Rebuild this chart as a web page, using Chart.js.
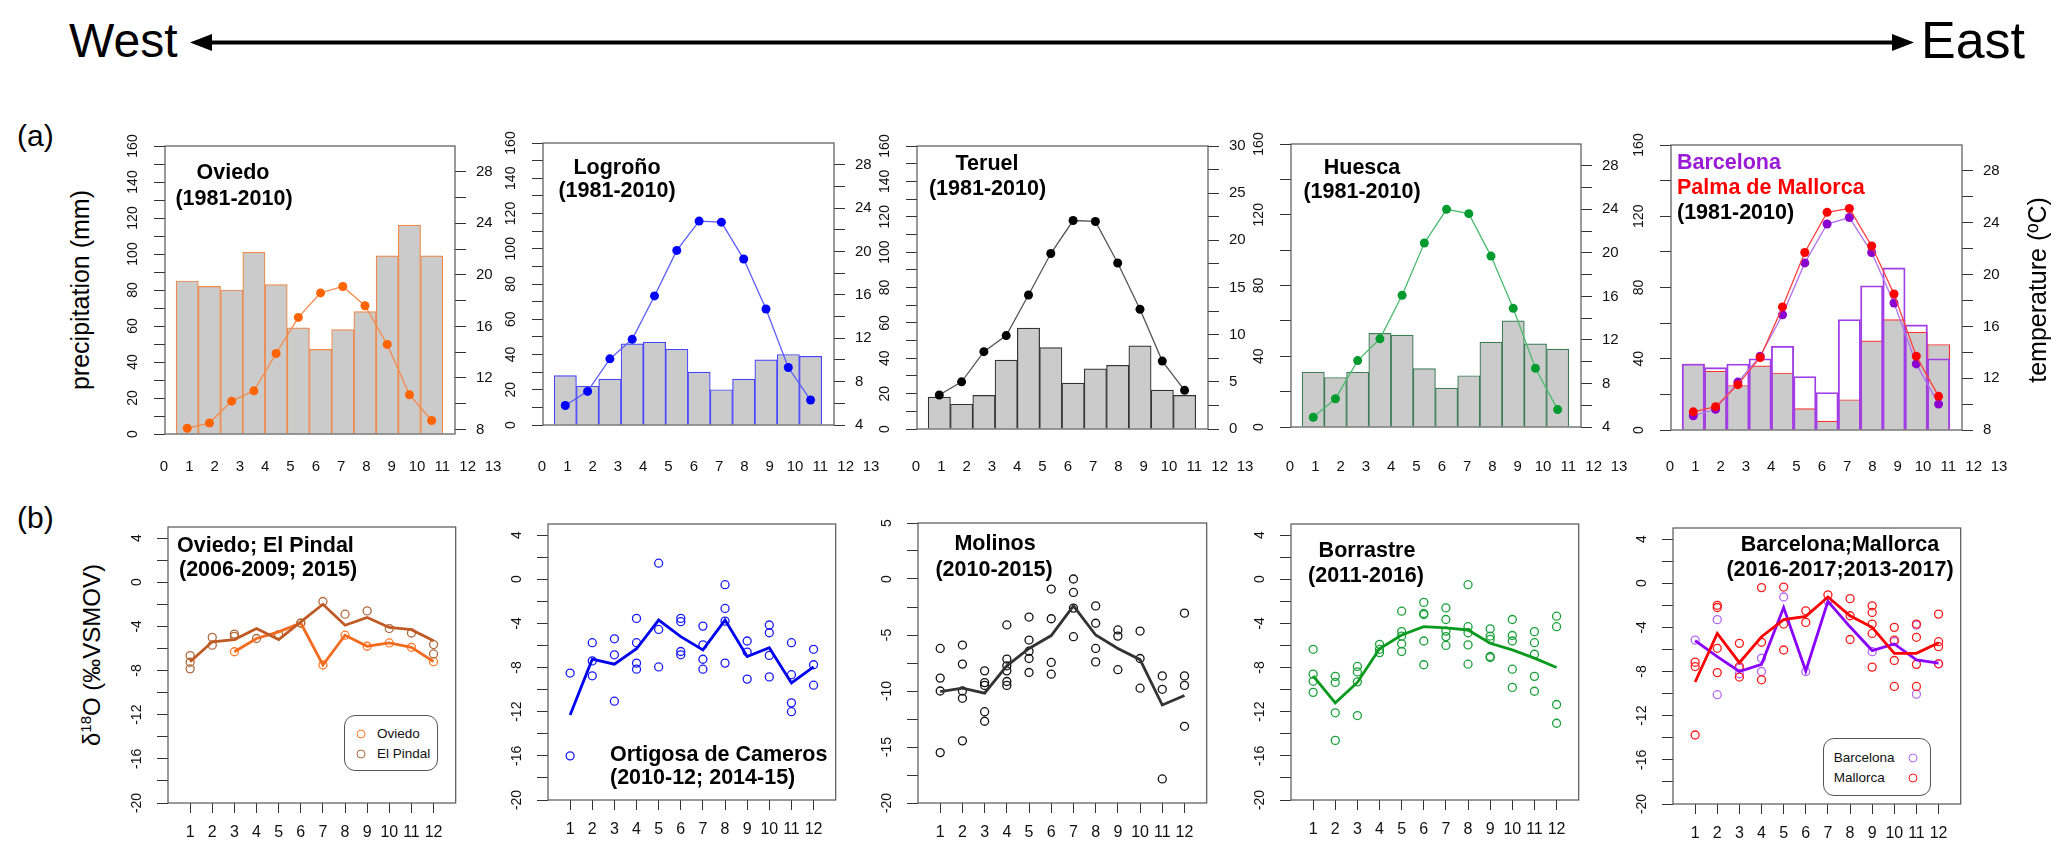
<!DOCTYPE html>
<html>
<head>
<meta charset="utf-8">
<title>Precipitation, temperature and d18O, west to east</title>
<script src="https://cdn.jsdelivr.net/npm/chart.js@4.4.1/dist/chart.umd.min.js"></script>
<style>
  html, body { margin: 0; padding: 0; background: #fff; }
  body { position: relative; width: 2067px; height: 858px; overflow: hidden; font-family: "Liberation Sans", Arial, sans-serif; }
  canvas { position: absolute; }
  .lbl { position: absolute; white-space: nowrap; line-height: 1; }
  .legend { position: absolute; border: 1px solid #555; border-radius: 11px; background: #fff; }
  .legend div { position: absolute; font-size: 13.5px; white-space: nowrap; line-height: 1; transform: translateY(-50%); color: #111; }
  .legend span { position: absolute; width: 7px; height: 7px; border-radius: 50%; border: 1.3px solid; transform: translate(-50%, -50%); }
</style>
</head>
<body>
<svg style="position:absolute;left:0;top:0" width="2067" height="80">
  <line x1="205" y1="42.5" x2="1899" y2="42.5" stroke="#000" stroke-width="4"/>
  <polygon points="190,42.5 212,34 212,51" fill="#000"/>
  <polygon points="1914,42.5 1892,34 1892,51" fill="#000"/>
</svg>
<script>
// months
const months = [1, 2, 3, 4, 5, 6, 7, 8, 9, 10, 11, 12];
const barAxisLabels = [0, 1, 2, 3, 4, 5, 6, 7, 8, 9, 10, 11, 12, 13];

// (a) monthly precipitation (mm) and temperature (ºC), 1981-2010
const oviedoPrecip = [85, 82, 80, 101, 83, 59, 47, 58, 68, 99, 116, 99];
const oviedoTemp = [8.1, 8.5, 10.2, 11.0, 13.9, 16.7, 18.6, 19.1, 17.6, 14.6, 10.7, 8.7];
const logronoPrecip = [28, 22, 26, 46, 47, 43, 30, 20, 26, 37, 40, 39];
const logronoTemp = [5.8, 7.1, 10.1, 11.9, 15.9, 20.1, 22.8, 22.7, 19.3, 14.7, 9.3, 6.3];
const teruelPrecip = [18, 14, 19, 39, 57, 46, 26, 34, 36, 47, 22, 19];
const teruelTemp = [3.6, 5.0, 8.2, 9.9, 14.2, 18.6, 22.1, 22.0, 17.6, 12.7, 7.2, 4.1];
const huescaPrecip = [31, 28, 31, 53, 52, 33, 22, 29, 48, 60, 47, 44];
const huescaTemp = [4.9, 6.6, 10.1, 12.1, 16.1, 20.9, 24.0, 23.6, 19.7, 14.9, 9.4, 5.6];
const barcelonaPrecip = [37, 35, 37, 40, 47, 30, 21, 62, 81, 91, 59, 40];
const palmaPrecip = [37, 33, 25, 36, 32, 12, 5, 17, 50, 62, 55, 48];
const barcelonaTemp = [9.1, 9.6, 11.7, 13.7, 16.9, 20.9, 23.9, 24.4, 21.7, 17.8, 13.1, 10.0];
const palmaTemp = [9.4, 9.8, 11.5, 13.6, 17.5, 21.7, 24.8, 25.1, 22.2, 18.5, 13.7, 10.6];

// (b) d18O of precipitation (‰ VSMOW): monthly means and single samples
const oviedoMean = [null, null, -6.3, -5.1, -4.5, -3.7, -7.5, -4.8, -5.8, -5.5, -5.9, -7.2];
const oviedoD18O = [[], [], [-6.3], [], [], [-3.7], [-7.5], [-4.8], [-5.8], [-5.5], [-5.9], [-7.2]];
const pindalMean = [-7.2, -5.4, -5.2, -4.2, -5.2, -3.6, -2.0, -3.9, -3.2, -4.1, -4.3, -5.3];
const pindalD18O = [[-6.65, -7.25, -7.85], [-5.0, -5.7], [-4.7, -4.9], [-5.1], [-4.75], [-3.7], [-1.75], [-2.9], [-2.6], [-4.2], [-4.6], [-5.65, -6.5]];

const ortigosaMean = [-12.3, -7.25, -7.7, -6.3, -3.7, -5.2, -6.4, -3.7, -7.0, -6.2, -9.4, -7.95];
const ortigosaD18O = [[-8.5, -16.0], [-5.75, -7.4, -8.75], [-5.4, -6.85, -11.05], [-3.55, -5.75, -7.6, -8.15], [1.45, -4.55, -7.95], [-3.55, -3.85, -6.55, -6.85], [-4.25, -5.95, -7.25, -8.15], [-0.5, -2.65, -3.8, -7.6], [-5.6, -6.6, -9.05], [-4.15, -4.85, -6.9, -8.85], [-5.75, -8.65, -11.2, -12.0], [-6.35, -7.75, -9.6]];

const molinosMean = [-10.05, -9.75, -10.2, -7.75, -6.2, -5.05, -2.4, -5.0, -6.2, -7.2, -11.25, -10.4];
const molinosD18O = [[-6.2, -8.85, -10.0, -15.5], [-5.9, -7.6, -10.0, -10.65, -14.45], [-8.2, -9.25, -9.5, -11.85, -12.7], [-4.1, -7.15, -7.75, -8.2, -9.15, -9.5], [-3.4, -5.45, -6.45, -7.1, -8.35], [-0.9, -3.55, -7.45, -8.5], [0.0, -1.2, -2.6, -5.15], [-2.4, -3.95, -6.2, -7.4], [-4.55, -5.1, -8.1], [-4.65, -7.1, -9.75], [-8.65, -9.85, -17.85], [-3.05, -8.65, -9.5, -13.15]];

const borrastreMean = [-8.75, -11.2, -9.35, -6.3, -5.05, -4.3, -4.4, -4.6, -5.8, -6.4, -7.15, -8.0];
const borrastreD18O = [[-6.35, -8.6, -9.25, -10.25], [-8.8, -9.35, -12.1, -14.6], [-7.9, -8.4, -9.3, -12.35], [-5.9, -6.35, -6.65], [-2.9, -4.75, -5.15, -5.85, -6.55], [-2.1, -3.1, -3.2, -5.6, -7.75], [-2.6, -3.65, -4.7, -5.2, -6.0], [-0.5, -4.3, -4.85, -5.95, -7.7], [-4.5, -5.15, -5.45, -7.0, -7.1], [-3.65, -5.1, -5.6, -8.15, -9.8], [-4.75, -5.75, -6.8, -8.8, -10.15], [-3.35, -4.3, -11.35, -13.05]];

const barcelonaMean = [-5.2, -6.65, -8.0, -7.35, -2.2, -7.95, -1.65, -3.95, -6.1, -5.5, -6.95, -7.25];
const barcelonaD18O = [[-5.15], [-3.3, -10.1], [-7.7, -8.2], [-6.8, -8.0], [-1.25], [-8.0], [-1.6], [], [-6.2], [-5.3], [-3.8, -10.05], [-7.3]];
const mallorcaMean = [-8.95, -4.55, -7.2, -4.85, -3.3, -3.0, -1.25, -2.95, -4.0, -6.35, -6.35, -5.4];
const mallorcaD18O = [[-7.15, -7.55, -13.75], [-2.0, -2.2, -5.9, -8.1], [-5.45, -7.55, -8.5], [-0.4, -5.35, -8.75], [-0.35, -3.7, -6.05], [-2.5, -3.55], [-1.05], [-1.4, -2.95, -5.1], [-2.05, -2.65, -3.7, -4.55, -7.6], [-4.0, -5.15, -7.0, -9.35], [-3.7, -4.9, -7.35, -9.35], [-2.8, -5.3, -5.75, -7.3]];

Chart.defaults.font.family = '"Liberation Sans", Arial, sans-serif';
Chart.defaults.color = '#111';

// box round the plotting area, like R's box()
const frame = {
  id: 'frame',
  afterDraw(chart) {
    const { ctx, chartArea: a } = chart;
    ctx.save();
    ctx.strokeStyle = '#555';
    ctx.lineWidth = 1.2;
    ctx.strokeRect(a.left, a.top, a.right - a.left, a.bottom - a.top);
    ctx.restore();
  }
};

function makeCanvas(x, y, w, h) {
  const c = document.createElement('canvas');
  c.width = Math.round(w);
  c.height = Math.round(h);
  c.style.cssText = `left:${x}px;top:${y}px;width:${Math.round(w)}px;height:${Math.round(h)}px`;
  document.body.appendChild(c);
  return c.getContext('2d');
}

function txt(html, x, y, o = {}) {
  const d = document.createElement('div');
  d.className = 'lbl';
  d.innerHTML = html;
  d.style.left = x + 'px';
  d.style.top = y + 'px';
  d.style.font = o.font || 'bold 21.5px "Liberation Sans", Arial, sans-serif';
  d.style.color = o.color || '#000';
  d.style.transform = `translate(${o.ax ?? -50}%, -50%)` + (o.rot ? ` rotate(${o.rot}deg)` : '');
  document.body.appendChild(d);
}

// tick list from..to by step, labels only on multiples of "every"
function tickAxis(pos, min, max, from, to, step, every, extra) {
  return Object.assign({
    type: 'linear', position: pos, min, max,
    afterBuildTicks: s => {
      const t = [];
      for (let v = from; v <= to + 1e-9; v += step) t.push({ value: +v.toFixed(3) });
      s.ticks = t;
    },
    grid: { drawOnChartArea: false, drawTicks: true, tickLength: 11, color: '#333', lineWidth: 1 },
    border: { display: false }
  }, extra, {
    ticks: Object.assign({
      autoSkip: false,
      color: '#111',
      callback: v => (Math.abs(v / every - Math.round(v / every)) < 1e-6 ? String(v) : '')
    }, extra.ticks)
  });
}

// (a) panel: bars of precipitation + line of temperature
function climate(p) {
  const AL = 48, AR = 52, PT = 22, PB = 14;
  const W = p.R - p.L, H = p.B - p.T;
  const ctx = makeCanvas(p.L - AL, p.T - PT, AL + W + AR, PT + H + PB);
  const datasets = [];
  p.lines.forEach(l => datasets.push({
    type: 'line', yAxisID: 'y2', order: 0,
    data: months.map((m, i) => ({ x: m, y: l.values[i] })),
    borderColor: l.line, borderWidth: 1.3,
    pointRadius: 4.5, pointBackgroundColor: l.dot, pointBorderColor: l.dot, pointBorderWidth: 0
  }));
  p.bars.forEach((b, k) => datasets.push({
    type: 'bar', yAxisID: 'y', order: 1 + k, grouped: false,
    data: months.map((m, i) => ({ x: m, y: b.values[i] })),
    backgroundColor: b.fill, borderColor: b.edge, borderWidth: 1.2,
    barPercentage: 1, categoryPercentage: 1
  }));
  new Chart(ctx, {
    type: 'bar',
    data: { datasets },
    plugins: [frame],
    options: {
      responsive: false, animation: false, events: [],
      layout: { padding: { top: PT, bottom: PB, left: 0, right: 0 } },
      plugins: { legend: { display: false }, tooltip: { enabled: false } },
      scales: {
        x: { type: 'linear', min: 0, max: 13.05, offset: false, display: false, ticks: { stepSize: 1 } },
        y: tickAxis('left', 0, 160, 0, 160, p.pStep, p.pEvery, {
          ticks: { minRotation: 90, maxRotation: 90, crossAlign: 'center', padding: 9, font: { size: 14 } },
          afterFit: s => { s.width = AL; }
        }),
        y2: tickAxis('right', p.tMin, p.tMax, p.tFrom, p.tTo, p.tStep, p.tEvery, {
          ticks: { crossAlign: 'near', padding: 10, font: { size: 15 } },
          afterFit: s => { s.width = AR; }
        })
      }
    }
  });
  // the 0..13 month axis printed under each panel
  const left = p.L - 1, step = 25.3, pad = 15;
  const ctx2 = makeCanvas(left - pad, 451.5, 13 * step + 2 * pad, 34);
  new Chart(ctx2, {
    type: 'scatter',
    data: { datasets: [] },
    options: {
      responsive: false, animation: false, events: [],
      layout: { padding: { left: pad, right: pad, top: 0, bottom: 0 } },
      plugins: { legend: { display: false }, tooltip: { enabled: false } },
      scales: {
        x: {
          type: 'linear', min: 0, max: 13,
          afterBuildTicks: s => { s.ticks = barAxisLabels.map(v => ({ value: v })); },
          ticks: { autoSkip: false, maxRotation: 0, padding: 2, font: { size: 15 }, color: '#111' },
          grid: { display: false, drawTicks: false },
          border: { display: false },
          afterFit: s => { s.height = 30; }
        },
        y: { display: false }
      }
    }
  });
}

// (b) panel: monthly means as lines, samples as open circles
function isotope(p) {
  const AL = 48, AR = 4, PT = 22, PB = 4, XH = 45;
  const W = p.R - p.L, H = p.B - p.T;
  const ctx = makeCanvas(p.L - AL, p.T - PT, AL + W + AR, PT + H + XH + PB);
  const datasets = [];
  p.series.forEach(s => {
    datasets.push({
      type: 'line', order: 0,
      data: months.map((m, i) => ({ x: m, y: s.mean[i] })).filter(d => d.y !== null),
      borderColor: s.line, borderWidth: 2.8, pointRadius: 0, tension: 0
    });
    datasets.push({
      type: 'scatter', order: 1,
      data: s.samples.flatMap((vals, i) => vals.map(v => ({ x: months[i], y: v }))),
      borderColor: s.dot, backgroundColor: 'rgba(0,0,0,0)', pointRadius: 4, borderWidth: 1.3
    });
  });
  new Chart(ctx, {
    type: 'scatter',
    data: { datasets },
    plugins: [frame],
    options: {
      responsive: false, animation: false, events: [],
      layout: { padding: { top: PT, bottom: PB, left: 0, right: AR } },
      plugins: { legend: { display: false }, tooltip: { enabled: false } },
      scales: {
        x: {
          type: 'linear', position: 'bottom', min: 0, max: 13,
          afterBuildTicks: s => { s.ticks = months.map(v => ({ value: v })); },
          ticks: { autoSkip: false, maxRotation: 0, padding: 10, font: { size: 16 }, color: '#111' },
          grid: { drawOnChartArea: false, drawTicks: true, tickLength: 10, color: '#333' },
          border: { display: false },
          afterFit: s => { s.height = XH; }
        },
        y: tickAxis('left', -20, 5, -20, p.yTo, p.yStep, p.yEvery, {
          ticks: { minRotation: 90, maxRotation: 90, crossAlign: 'center', padding: 10, font: { size: 14 } },
          afterFit: s => { s.width = AL; }
        })
      }
    }
  });
}

const gray = '#cbcbcb';

climate({ L: 164.5, R: 454.3, T: 145.5, B: 438, pStep: 10, pEvery: 20,
  tMin: 7.65, tMax: 30, tFrom: 8, tTo: 28, tStep: 2, tEvery: 4,
  bars: [{ values: oviedoPrecip, fill: gray, edge: '#f0894a' }],
  lines: [{ values: oviedoTemp, line: '#f48a4c', dot: '#ff6400' }] });

climate({ L: 543.3, R: 834.3, T: 143.3, B: 430, pStep: 10, pEvery: 20,
  tMin: 4, tMax: 30, tFrom: 4, tTo: 28, tStep: 2, tEvery: 4,
  bars: [{ values: logronoPrecip, fill: gray, edge: '#4646ff' }],
  lines: [{ values: logronoTemp, line: '#5b5bff', dot: '#0000ff' }] });

climate({ L: 917.3, R: 1208.3, T: 146, B: 434, pStep: 10, pEvery: 20,
  tMin: 0, tMax: 30, tFrom: 0, tTo: 30, tStep: 2.5, tEvery: 5,
  bars: [{ values: teruelPrecip, fill: gray, edge: '#333' }],
  lines: [{ values: teruelTemp, line: '#555', dot: '#000' }] });

climate({ L: 1291, R: 1581, T: 144, B: 432, pStep: 20, pEvery: 40,
  tMin: 4, tMax: 30, tFrom: 4, tTo: 28, tStep: 2, tEvery: 4,
  bars: [{ values: huescaPrecip, fill: gray, edge: '#3b7d57' }],
  lines: [{ values: huescaTemp, line: '#4cbb6e', dot: '#009a2e' }] });

climate({ L: 1670.7, R: 1961.7, T: 145, B: 434.5, pStep: 20, pEvery: 40,
  tMin: 8, tMax: 30, tFrom: 8, tTo: 28, tStep: 2, tEvery: 4,
  bars: [
    { values: barcelonaPrecip, fill: 'rgba(0,0,0,0)', edge: '#a23ee6' },
    { values: palmaPrecip, fill: gray, edge: '#ff3030' }
  ],
  lines: [
    { values: palmaTemp, line: '#ff4040', dot: '#ff0000' },
    { values: barcelonaTemp, line: '#b070f0', dot: '#8a00d0' }
  ] });

isotope({ L: 167.7, R: 456.7, T: 526.7, B: 802.3, yTo: 4, yStep: 2, yEvery: 4,
  series: [
    { mean: pindalMean, samples: pindalD18O, line: '#c05a24', dot: '#b06a3c' },
    { mean: oviedoMean, samples: oviedoD18O, line: '#f36b1f', dot: '#ff7a28' }
  ] });

isotope({ L: 548.3, R: 837.3, T: 524.3, B: 800.7, yTo: 4, yStep: 2, yEvery: 4,
  series: [{ mean: ortigosaMean, samples: ortigosaD18O, line: '#0000ee', dot: '#1a1aff' }] });

isotope({ L: 918.3, R: 1208.3, T: 523.3, B: 803.3, yTo: 5, yStep: 2.5, yEvery: 5,
  series: [{ mean: molinosMean, samples: molinosD18O, line: '#333', dot: '#111' }] });

isotope({ L: 1290.7, R: 1579.3, T: 524.3, B: 800.7, yTo: 4, yStep: 2, yEvery: 4,
  series: [{ mean: borrastreMean, samples: borrastreD18O, line: '#0a9a1e', dot: '#1aa03a' }] });

isotope({ L: 1673.3, R: 1962.7, T: 528.3, B: 804, yTo: 4, yStep: 2, yEvery: 4,
  series: [
    { mean: mallorcaMean, samples: mallorcaD18O, line: '#ff0000', dot: '#ff1a1a' },
    { mean: barcelonaMean, samples: barcelonaD18O, line: '#8a00ff', dot: '#b468f5' }
  ] });

// header and outer labels
txt('West', 69, 40, { font: '48px "Liberation Sans", Arial, sans-serif', ax: 0 });
txt('East', 1921, 40, { font: '52px "Liberation Sans", Arial, sans-serif', ax: 0 });
txt('(a)', 17, 135.5, { font: '30px "Liberation Sans", Arial, sans-serif', ax: 0 });
txt('(b)', 17, 517.5, { font: '30px "Liberation Sans", Arial, sans-serif', ax: 0 });
txt('precipitation (mm)', 80, 290, { font: '25px "Liberation Sans", Arial, sans-serif', rot: -90 });
txt('temperature (ºC)', 2037, 290, { font: '25px "Liberation Sans", Arial, sans-serif', rot: -90 });
txt('δ<sup style="font-size:15px">18</sup>O (‰VSMOV)', 91, 655, { font: '24px "Liberation Sans", Arial, sans-serif', rot: -90 });

// panel titles (a)
txt('Oviedo', 233, 172); txt('(1981-2010)', 234, 198);
txt('Logroño', 617, 167); txt('(1981-2010)', 617, 190);
txt('Teruel', 987, 163); txt('(1981-2010)', 987.5, 187.5);
txt('Huesca', 1362, 167); txt('(1981-2010)', 1362, 191);
txt('Barcelona', 1677, 162, { ax: 0, color: '#9a1ad6' });
txt('Palma de Mallorca', 1677, 187, { ax: 0, color: '#ff0000' });
txt('(1981-2010)', 1677, 212, { ax: 0 });

// panel titles (b)
txt('Oviedo; El Pindal', 177, 544.5, { ax: 0 });
txt('(2006-2009; 2015)', 179, 569, { ax: 0 });
txt('Ortigosa de Cameros', 610, 753.5, { ax: 0 });
txt('(2010-12; 2014-15)', 610, 777, { ax: 0 });
txt('Molinos', 995, 543); txt('(2010-2015)', 994, 569);
txt('Borrastre', 1367, 550); txt('(2011-2016)', 1366, 575);
txt('Barcelona;Mallorca', 1840, 544); txt('(2016-2017;2013-2017)', 1840, 569);

// legends inside (b) panels
function legend(x, y, w, h, items) {
  const box = document.createElement('div');
  box.className = 'legend';
  box.style.cssText = `left:${x}px;top:${y}px;width:${w}px;height:${h}px`;
  items.forEach(it => {
    const t = document.createElement('div');
    t.textContent = it.label;
    t.style.left = it.tx + 'px';
    t.style.top = it.y + 'px';
    box.appendChild(t);
    const c = document.createElement('span');
    c.style.left = it.cx + 'px';
    c.style.top = it.y + 'px';
    c.style.borderColor = it.color;
    box.appendChild(c);
  });
  document.body.appendChild(box);
}
legend(344, 715, 92, 54, [
  { label: 'Oviedo', color: '#ff7a28', cx: 16, tx: 32, y: 17.5 },
  { label: 'El Pindal', color: '#b06a3c', cx: 16, tx: 32, y: 37.5 }
]);
legend(1822.7, 738.3, 106, 56, [
  { label: 'Barcelona', color: '#b468f5', cx: 89, tx: 10, y: 19 },
  { label: 'Mallorca', color: '#ff1a1a', cx: 89, tx: 10, y: 38.5 }
]);
</script>
</body>
</html>
